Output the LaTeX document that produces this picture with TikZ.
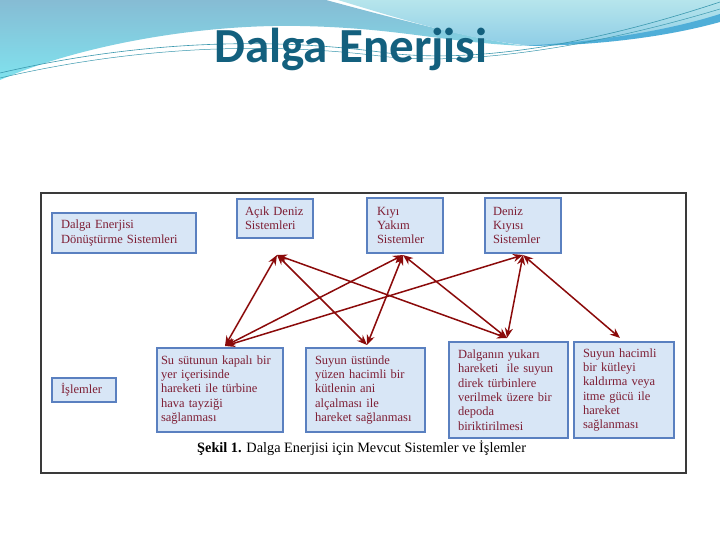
\documentclass[tikz,border=0pt]{standalone}
\usepackage{fontspec}
\setmainfont{Liberation Serif}
\newfontfamily\titlefont{Carlito}
\usetikzlibrary{arrows.meta}
\definecolor{titlecol}{HTML}{13607E}
\definecolor{boxfill}{HTML}{D8E6F6}
\definecolor{boxdraw}{HTML}{5A80C0}
\definecolor{boxtext}{HTML}{7E1E34}
\definecolor{arrowcol}{HTML}{8B0A0A}
\definecolor{waveA1}{HTML}{86BCD4}
\definecolor{waveA2}{HTML}{80E2EE}
\definecolor{waveB1}{HTML}{B6E5EC}
\definecolor{waveB2}{HTML}{8ECDE6}
\definecolor{stripe}{HTML}{4FAED8}
\definecolor{thinline}{HTML}{3A98AE}
\definecolor{framecol}{HTML}{3A3A3A}
\tikzset{
  sysbox/.style={draw=boxdraw, line width=1.3pt, fill=boxfill, rectangle,
    text=boxtext, align=left, font=\fontsize{12.5}{14.3}\selectfont,
    inner ysep=0pt},
  conn/.style={draw=arrowcol, line width=1.5pt, {Stealth[length=10pt,width=8pt]}-{Stealth[length=10pt,width=8pt]}}
}
\begin{document}
\begin{tikzpicture}[x=1pt,y=-1pt]
\useasboundingbox (0,0) rectangle (720,540);
\fill[white] (0,0) rectangle (720,540);
% background waves
\shade[top color=waveA1, bottom color=waveA2]
  (0,0) -- (326,0) .. controls (400,20) and (470,38) .. (525,46)
  .. controls (440,42) and (400,28) .. (300,26)
  .. controls (200,24) and (80,45) .. (0,80) -- cycle;
\shade[top color=waveB1, bottom color=waveB2]
  (338,0) .. controls (410,22) and (470,40) .. (532,46)
  .. controls (600,42) and (670,30) .. (720,16) -- (720,0) -- cycle;
\fill[stripe] (520,46) .. controls (600,42) and (670,30) .. (720,14)
  -- (720,22) .. controls (670,36) and (600,46) .. (520,46) -- cycle;
\draw[thinline, line width=0.6pt]
  (0,73) .. controls (120,45) and (250,35) .. (380,52)
  .. controls (450,62) and (560,55) .. (720,2);
\draw[thinline, line width=0.5pt]
  (0,78) .. controls (120,50) and (250,40) .. (380,56)
  .. controls (450,65) and (570,54) .. (720,9);
% title
\node[anchor=base, text=titlecol, font=\titlefont\bfseries\fontsize{49}{55}\selectfont, inner sep=0pt] (title) at (351,63) {Dalga Enerjisi};
% frame
\draw[framecol, line width=1.3pt, fill=white] (41,193) rectangle (686,473);
% boxes
\node[sysbox, minimum width=144pt, minimum height=40pt, inner xsep=9pt, text width=126pt] (dec) at (124,233) {Dalga Enerjisi\\Dönüştürme Sistemleri};
\node[sysbox, minimum width=76pt, minimum height=39pt, inner xsep=8pt, text width=60pt] (acik) at (275,218.5) {Açık Deniz\\Sistemleri};
\node[sysbox, minimum width=76pt, minimum height=55pt, inner xsep=10pt, text width=56pt] (kiyi) at (405,225.5) {Kıyı\\Yakım\\Sistemler};
\node[sysbox, minimum width=76pt, minimum height=55pt, inner xsep=8pt, text width=60pt] (deniz) at (523,225.5) {Deniz\\Kıyısı\\Sistemler};
\node[sysbox, minimum width=64pt, minimum height=24pt, inner xsep=9pt, text width=46pt] (isl) at (84,390) {İşlemler};
\node[sysbox, minimum width=126pt, minimum height=84pt, inner xsep=4pt, text width=118pt] (b1) at (220,390) {Su sütunun kapalı bir\\yer içerisinde\\hareketi ile türbine\\hava tayziği\\sağlanması};
\node[sysbox, minimum width=119pt, minimum height=84pt, inner xsep=9pt, text width=101pt] (b2) at (365.5,390) {Suyun üstünde\\yüzen hacimli bir\\kütlenin ani\\alçalması ile\\hareket sağlanması};
\node[sysbox, minimum width=119pt, minimum height=96pt, inner xsep=9pt, text width=101pt] (b3) at (508.5,390) {Dalganın yukarı\\hareketi\ \ ile suyun\\direk türbinlere\\verilmek üzere bir\\depoda\\biriktirilmesi};
\node[sysbox, minimum width=100pt, minimum height=96pt, inner xsep=9pt, text width=82pt] (b4) at (624,390) {Suyun hacimli\\bir kütleyi\\kaldırma veya\\itme gücü ile\\hareket\\sağlanması};
% caption
\node[anchor=base west, inner sep=0pt, font=\fontsize{14.3}{16}\selectfont] (cap) at (197,452) {\textbf{Şekil 1.} Dalga Enerjisi için Mevcut Sistemler ve İşlemler};
% connector end points
\coordinate (tA) at (277,255);
\coordinate (tK) at (403,255);
\coordinate (tD) at (523,255);
\coordinate (e1) at (225,346);
\coordinate (e2) at (367,345);
\coordinate (e3) at (507,338);
\coordinate (e4) at (620,338);
% connectors
\draw[conn] (tA) -- (e1);
\draw[conn] (tA) -- (e2);
\draw[conn] (tA) -- (e3);
\draw[conn] (tK) -- (e1);
\draw[conn] (tK) -- (e2);
\draw[conn] (tK) -- (e3);
\draw[conn] (tD) -- (e1);
\draw[conn] (tD) -- (e3);
\draw[conn] (tD) -- (e4);
\end{tikzpicture}
\end{document}
